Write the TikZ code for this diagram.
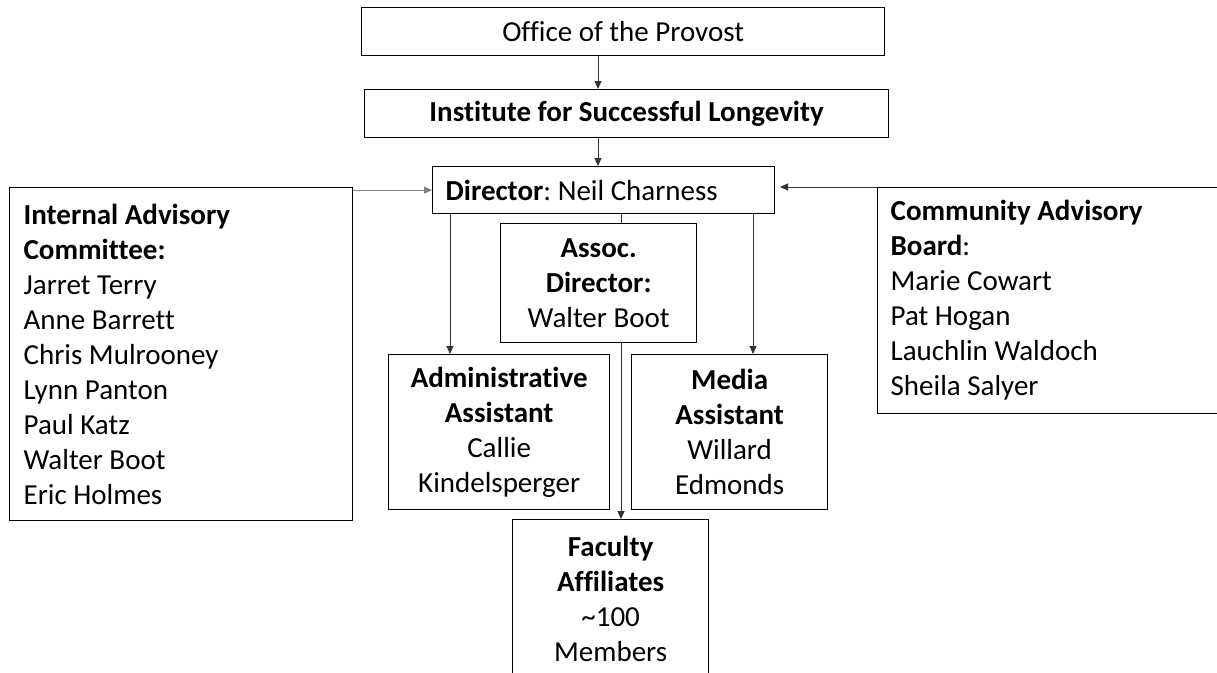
\documentclass[tikz,border=0pt]{standalone}
\usepackage{fontspec}
\setmainfont{Carlito}[Ligatures=NoCommon]
\usetikzlibrary{arrows.meta}
\begin{document}
\begin{tikzpicture}[x=1pt,y=-1pt,
  box/.style={draw, line width=1.3pt, font=\fontsize{29}{35}\selectfont, inner sep=0pt},
  conn/.style={line width=0.9pt, draw=black!80},
  arr/.style={conn, -{Triangle[length=8pt,width=7pt]}},
]
\useasboundingbox (0,0) rectangle (1217,672);
\clip (0,0) rectangle (1217,672);
\node[box, anchor=north west, minimum width=523, minimum height=48] (office) at (361,7) {Office of the Provost};
\node[box, anchor=north west, minimum width=524, minimum height=48] (inst) at (364,89) {\textbf{Institute for Successful Longevity}};
\node[box, anchor=north west, text width=316, inner xsep=13, minimum height=47, align=flush left] (dir) at (432,166) {\textbf{Director}:\ Neil Charness};
\node[box, anchor=north west, text width=315, inner xsep=14, minimum height=333, align=flush left] (iac) at (9,187) {\textbf{Internal Advisory}\\\textbf{Committee:}\\Jarret Terry\\Anne Barrett\\Chris Mulrooney\\Lynn Panton\\Paul Katz\\Walter Boot\\Eric Holmes};
\node[box, anchor=north west, text width=340, inner xsep=13, minimum height=226, align=flush left] (cab) at (877,187) {\textbf{Community Advisory}\\\textbf{Board}:\\Marie Cowart\\Pat Hogan\\Lauchlin Waldoch\\Sheila Salyer};
\node[box, anchor=north west, minimum width=196, minimum height=119, align=center] (assoc) at (500,223) {\textbf{Assoc.}\\\textbf{Director:}\\Walter Boot};
\node[box, anchor=north west, minimum width=221, minimum height=155, align=center] (adm) at (388,354) {\textbf{Administrative}\\\textbf{Assistant}\\Callie\\Kindelsperger};
\node[box, anchor=north west, minimum width=196, minimum height=155, align=center] (media) at (631,354) {\textbf{Media}\\\textbf{Assistant}\\Willard\\Edmonds};
\node[box, anchor=north west, minimum width=196, minimum height=159, align=center] (fac) at (512,519) {\textbf{Faculty}\\\textbf{Affiliates}\\\textasciitilde100\\Members};
\coordinate (xa) at (598,0);
\coordinate (xl) at (450,0);
\coordinate (xr) at (753,0);
\coordinate (xm) at (621,0);
\coordinate (rtip) at (780,187);
\draw[arr] (office.south -| xa) -- (inst.north -| xa);
\draw[arr] (inst.south -| xa) -- (dir.north -| xa);
\draw[arr, draw=gray] (iac.east |- dir.west) -- (dir.west);
\draw[arr] (cab.west |- rtip) -- (rtip);
\draw[arr] (dir.south -| xl) -- (adm.north -| xl);
\draw[arr] (dir.south -| xr) -- (media.north -| xr);
\draw[conn] (dir.south -| xm) -- (assoc.north -| xm);
\draw[arr] (assoc.south -| xm) -- (fac.north -| xm);
\end{tikzpicture}
\end{document}
